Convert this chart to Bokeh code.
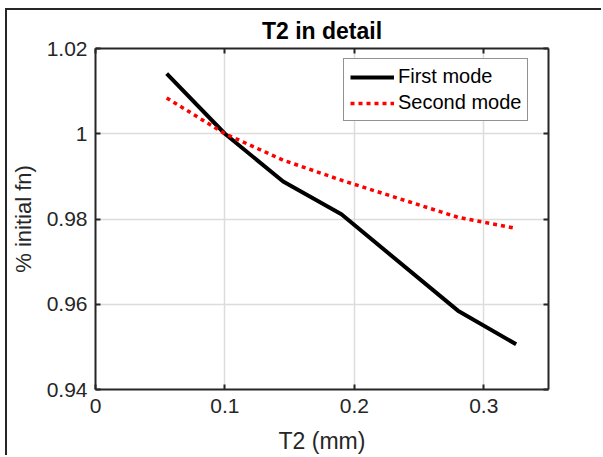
from bokeh.plotting import figure
from bokeh.models import Range1d, FixedTicker, LinearAxis, Legend, LegendItem
from bokeh.embed import file_html
from bokeh.resources import INLINE

# Data
t2_mm = [0.055, 0.1, 0.145, 0.19, 0.28, 0.325]
first_mode = [1.0141, 1.0, 0.9888, 0.9811, 0.9585, 0.9506]
second_mode = [1.0084, 1.0, 0.9938, 0.9891, 0.9804, 0.9778]
x_ticks = [0, 0.1, 0.2, 0.3]
x_tick_labels = ["0", "0.1", "0.2", "0.3"]
y_ticks = [0.94, 0.96, 0.98, 1.0, 1.02]
y_tick_labels = ["0.94", "0.96", "0.98", "1", "1.02"]

FONT = "Liberation Sans"
AX = "#262626"

p = figure(width=596, height=447, output_backend="svg", toolbar_location=None,
           x_range=Range1d(0, 0.35), y_range=Range1d(0.94, 1.02),
           min_border_left=87, min_border_right=55, min_border_top=38, min_border_bottom=68,
           title="T2 in detail")
p.styles = {"margin-left": "5px", "margin-top": "8px",
            "border-left": "2px solid #262626", "border-top": "2px solid #262626"}

p.title.align = "center"
p.title.text_font = FONT
p.title.text_font_size = "23px"
p.title.text_font_style = "bold"
p.title.text_color = "black"

p.outline_line_color = None
p.background_fill_color = "white"
p.border_fill_color = "white"

for ax in (p.xaxis[0], p.yaxis[0]):
    ax.major_label_text_font = FONT
    ax.major_label_text_font_size = "21px"
    ax.major_label_text_color = AX
    ax.axis_label_text_font = FONT
    ax.axis_label_text_font_style = "normal"
    ax.axis_label_text_color = AX
    ax.axis_line_color = AX
    ax.axis_line_width = 2
    ax.major_tick_line_color = AX
    ax.major_tick_line_width = 2
    ax.major_tick_in = 5
    ax.major_tick_out = 0
    ax.minor_tick_line_color = None

p.xaxis[0].ticker = FixedTicker(ticks=x_ticks)
p.xaxis[0].major_label_overrides = dict(zip(x_ticks, x_tick_labels))
p.xaxis[0].axis_label = "T2 (mm)"
p.xaxis[0].axis_label_text_font_size = "23px"
p.xaxis[0].major_label_standoff = 9
p.xaxis[0].axis_label_standoff = 12
p.yaxis[0].ticker = FixedTicker(ticks=y_ticks)
p.yaxis[0].major_label_overrides = dict(zip(y_ticks, y_tick_labels))
p.yaxis[0].axis_label = "% initial fn)"
p.yaxis[0].axis_label_text_font_size = "22px"
p.yaxis[0].major_label_standoff = 8
p.yaxis[0].axis_label_standoff = 8

for loc, tk in (("right", y_ticks), ("above", x_ticks)):
    a = LinearAxis(ticker=FixedTicker(ticks=tk),
                   major_label_overrides={t: "" for t in tk},
                   axis_line_color=AX, axis_line_width=2, major_tick_line_color=AX,
                   major_tick_line_width=2, major_tick_in=5, major_tick_out=0,
                   minor_tick_line_color=None, major_label_standoff=0)
    p.add_layout(a, loc)

p.xgrid.ticker = FixedTicker(ticks=x_ticks)
p.ygrid.ticker = FixedTicker(ticks=y_ticks)
p.grid.grid_line_color = "#dcdcdc"
p.grid.grid_line_width = 1.5

r1 = p.line(t2_mm, first_mode, line_color="black", line_width=4)
r2 = p.line(t2_mm, second_mode, line_color="#ff0000", line_width=3.5, line_dash="4 4")

legend = Legend(items=[LegendItem(label="First mode", renderers=[r1]),
                       LegendItem(label="Second mode", renderers=[r2])],
                location=(248, 268))
legend.label_text_font = FONT
legend.label_text_font_size = "20px"
legend.label_text_color = "black"
legend.glyph_width = 44
legend.glyph_height = 20
legend.label_height = 20
legend.label_standoff = 4
legend.spacing = 3
legend.padding = 6
legend.margin = 0
legend.border_line_color = AX
legend.border_line_width = 1
legend.background_fill_color = "white"
legend.background_fill_alpha = 1
p.add_layout(legend, "center")

open("out.html", "w").write(file_html(p, INLINE))
